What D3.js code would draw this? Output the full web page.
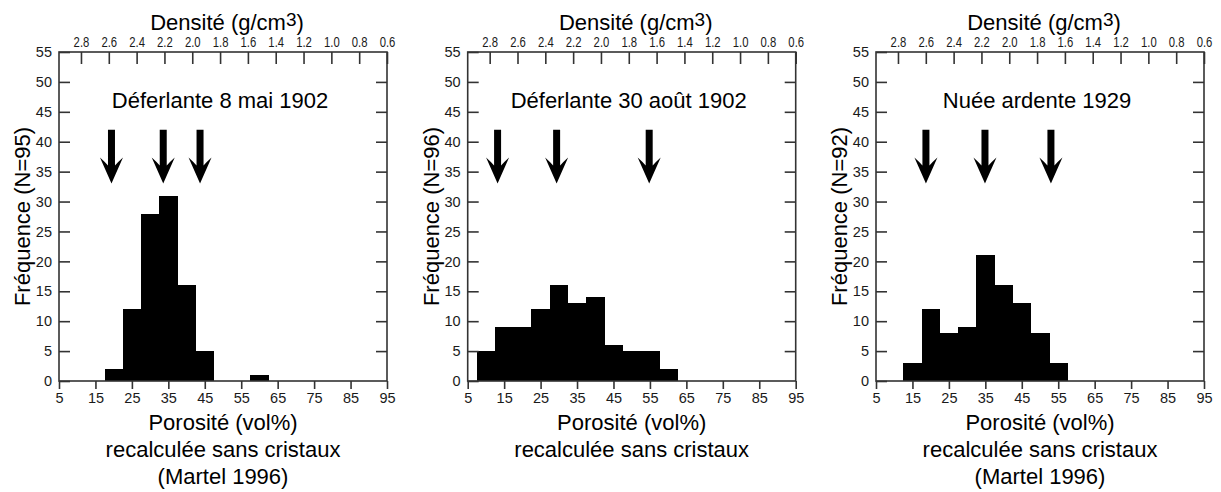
<!DOCTYPE html>
<html>
<head>
<meta charset="utf-8" />
<title>Porosité / densité</title>
<style type="text/css">
    body { margin: 0; background: #fff; }
    svg { display: block; font-family: "Liberation Sans", Arial, Helvetica, sans-serif; }
    .frame { fill: none; stroke: #333; stroke-width: 1.6px; }
    .bar { fill: #000; shape-rendering: crispEdges; }
    .arrow { fill: #000; }
    .label { fill: #000; font-size: 22px; }
</style>
<script src="https://cdnjs.cloudflare.com/ajax/libs/d3/7.8.5/d3.min.js"></script>
</head>
<body>
<div id="chart"></div>
<script type="text/javascript">
// data
var titles = ["Déferlante 8 mai 1902", "Déferlante 30 août 1902", "Nuée ardente 1929"];
var nLabels = ["Fréquence (N=95)", "Fréquence (N=96)", "Fréquence (N=92)"];
var binStarts = [7.5, 12.5, 17.5, 22.5, 27.5, 32.5, 37.5, 42.5, 47.5, 52.5, 57.5];
var counts1 = [0, 0, 2, 12, 28, 31, 16, 5, 0, 0, 1];
var counts2 = [5, 9, 9, 12, 16, 13, 14, 6, 5, 5, 2];
var counts3 = [0, 3, 12, 8, 9, 21, 16, 13, 8, 3, 0];
var arrows1 = [19.4, 33.6, 43.7];
var arrows2 = [13.2, 29.4, 54.8];
var arrows3 = [18.7, 34.9, 53.0];
var showMartel = [true, false, true];
var porTicks = [5, 15, 25, 35, 45, 55, 65, 75, 85, 95];
var densTicks = [2.8, 2.6, 2.4, 2.2, 2.0, 1.8, 1.6, 1.4, 1.2, 1.0, 0.8, 0.6];
var freqTicks = [0, 5, 10, 15, 20, 25, 30, 35, 40, 45, 50, 55];

var allCounts = [counts1, counts2, counts3];
var allArrows = [arrows1, arrows2, arrows3];

var width = 1221, height = 492;
var pLeft = [59, 467.7, 876], pTop = 52, pw = 328, ph = 329;
var binW = 5, arrowTop = 42, arrowTip = 33;

var svg = d3.select("#chart").append("svg")
    .attr("width", width)
    .attr("height", height);

var x = d3.scaleLinear().domain([5, 95]).range([0, pw]);
var dens = d3.scaleLinear().domain([2.958, 0.6]).range([0, pw]);
var y = d3.scaleLinear().domain([0, 55]).range([ph, 0]);

function styleAxis(sel) {
    sel.select(".domain").remove();
    sel.selectAll("line").style("stroke", "#333").style("stroke-width", "1.6px");
    sel.selectAll("text")
        .style("font-size", "14.5px")
        .style("font-family", "'Liberation Sans', Arial, sans-serif")
        .style("fill", "#1a1a1a");
}

pLeft.forEach(function (left, i) {
    var g = svg.append("g").attr("transform", "translate(" + left + "," + pTop + ")");

    var data = binStarts.map(function (s, j) { return { start: s, n: allCounts[i][j] }; })
        .filter(function (d) { return d.n > 0; });

    g.selectAll(".bar")
        .data(data)
        .enter()
        .append("rect")
        .attr("class", "bar")
        .attr("x", function (d) { return x(d.start); })
        .attr("width", function (d) { return x(d.start + binW) - x(d.start) + 0.5; })
        .attr("y", function (d) { return y(d.n); })
        .attr("height", function (d) { return y(0) - y(d.n); });

    // arrows
    g.selectAll(".arrow")
        .data(allArrows[i])
        .enter()
        .append("path")
        .attr("class", "arrow")
        .attr("d", function (d) {
            var cx = x(d), t = y(arrowTop), b = y(arrowTip);
            return "M" + (cx - 3.5) + "," + t +
                "L" + (cx + 3.5) + "," + t +
                "L" + (cx + 3.5) + "," + (b - 18) +
                "Q" + (cx + 7) + "," + (b - 22) + " " + (cx + 11.5) + "," + (b - 26) +
                "L" + cx + "," + b +
                "L" + (cx - 11.5) + "," + (b - 26) +
                "Q" + (cx - 7) + "," + (b - 22) + " " + (cx - 3.5) + "," + (b - 18) + "Z";
        });

    // axes
    g.append("g").attr("class", "axis")
        .attr("transform", "translate(0," + ph + ")")
        .call(d3.axisBottom(x).tickValues(porTicks).tickSize(8).tickPadding(4))
        .call(styleAxis);

    g.append("g").attr("class", "axis")
        .call(d3.axisTop(dens).tickValues(densTicks).tickSize(-12).tickPadding(5)
            .tickFormat(d3.format(".1f")))
        .call(styleAxis)
        .selectAll("text").attr("transform", "scale(0.78,1)");

    g.append("g").attr("class", "axis")
        .call(d3.axisLeft(y).tickValues(freqTicks).tickSize(-11).tickPadding(7))
        .call(styleAxis);

    g.append("g").attr("class", "axis")
        .attr("transform", "translate(" + pw + ",0)")
        .call(d3.axisRight(y).tickValues(freqTicks.slice(1, -1)).tickSize(-11).tickFormat(""))
        .call(styleAxis);

    g.append("rect").attr("class", "frame")
        .attr("width", pw).attr("height", ph);

    // labels
    g.append("text").attr("class", "label")
        .attr("x", pw / 2 - 3).attr("y", 56.3)
        .attr("text-anchor", "middle")
        .text(titles[i]);

    var dt = g.append("text").attr("class", "label")
        .attr("x", pw / 2 + 4).attr("y", -22.5)
        .attr("text-anchor", "middle");
    dt.append("tspan").text("Densité (g/cm");
    dt.append("tspan").attr("dy", -4).style("font-size", "19px").text("3");
    dt.append("tspan").attr("dy", 4).text(")");

    g.append("text").attr("class", "label")
        .attr("transform", "translate(-29," + ph / 2 + ") rotate(-90)")
        .attr("text-anchor", "middle")
        .text(nLabels[i]);

    var bottomLines = ["Porosité (vol%)", "recalculée sans cristaux"];
    if (showMartel[i]) bottomLines.push("(Martel 1996)");
    g.selectAll(".blabel")
        .data(bottomLines)
        .enter()
        .append("text")
        .attr("class", "label blabel")
        .attr("x", pw / 2)
        .attr("y", function (d, k) { return ph + 49 + k * 26.8; })
        .attr("text-anchor", "middle")
        .text(function (d) { return d; });
});
</script>
</body>
</html>
